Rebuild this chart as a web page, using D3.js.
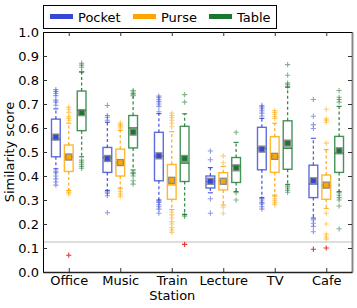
<!DOCTYPE html>
<html>
<head>
<meta charset="utf-8">
<script src="https://cdnjs.cloudflare.com/ajax/libs/d3/7.8.5/d3.min.js"></script>
<style>
  html, body { margin: 0; padding: 0; background: #fff; }
  svg { display: block; font-family: 'DejaVu Sans', sans-serif; }
</style>
</head>
<body>
<svg id="chart" width="357" height="308"></svg>
<script>
// ── data (rows: Pocket, Purse, Table; columns follow categories) ──
const categories = ['Office', 'Music', 'Train\nStation', 'Lecture', 'TV', 'Cafe'];
const series = ['Pocket', 'Purse', 'Table'];
const colors = ['#3447d6', '#ffa500', '#18782e'];
const yTicks = [0, 0.1, 0.2, 0.3, 0.4, 0.5, 0.6, 0.7, 0.8, 0.9, 1.0];
const threshold = 0.125;

const q1 = [
  [0.480, 0.415, 0.380, 0.350, 0.426, 0.310],
  [0.419, 0.400, 0.303, 0.342, 0.415, 0.303],
  [0.589, 0.517, 0.377, 0.373, 0.428, 0.415],
];
const median = [
  [0.554, 0.477, 0.482, 0.377, 0.515, 0.367],
  [0.480, 0.455, 0.363, 0.380, 0.480, 0.360],
  [0.673, 0.600, 0.454, 0.442, 0.516, 0.495],
];
const q3 = [
  [0.637, 0.519, 0.582, 0.400, 0.603, 0.445],
  [0.529, 0.512, 0.448, 0.414, 0.564, 0.404],
  [0.754, 0.652, 0.607, 0.477, 0.630, 0.565],
];
const means = [
  [0.562, 0.473, 0.484, 0.378, 0.512, 0.380],
  [0.479, 0.456, 0.382, 0.378, 0.482, 0.362],
  [0.664, 0.583, 0.473, 0.434, 0.537, 0.505],
];
const whiskerLow = [
  [0.430, 0.340, 0.300, 0.330, 0.310, 0.225],
  [0.340, 0.350, 0.260, 0.279, 0.320, 0.265],
  [0.480, 0.425, 0.240, 0.335, 0.365, 0.335],
];
const whiskerHigh = [
  [0.680, 0.624, 0.660, 0.435, 0.640, 0.557],
  [0.620, 0.590, 0.585, 0.440, 0.620, 0.510],
  [0.833, 0.742, 0.659, 0.540, 0.770, 0.690],
];
const outliers = [
  [
    [0.760, 0.752, 0.745, 0.735, 0.716, 0.708, 0.695, 0.420, 0.413, 0.400, 0.388, 0.375, 0.362],
    [0.694, 0.652, 0.645, 0.632, 0.334, 0.328, 0.318, 0.247],
    [0.733, 0.726, 0.718, 0.710, 0.700, 0.690, 0.668, 0.295, 0.290, 0.280, 0.272, 0.262, 0.245],
    [0.504, 0.468, 0.305, 0.245],
    [0.694, 0.688, 0.680, 0.672, 0.662, 0.650, 0.306, 0.300, 0.290, 0.284, 0.272, 0.262],
    [0.719, 0.649, 0.614, 0.598, 0.217, 0.203, 0.190, 0.168],
  ],
  [
    [0.687, 0.678, 0.665, 0.648, 0.640, 0.632, 0.338, 0.331, 0.325],
    [0.621, 0.614, 0.607, 0.600, 0.345, 0.335, 0.325, 0.315],
    [0.662, 0.652, 0.643, 0.632, 0.620, 0.605, 0.250, 0.238, 0.225, 0.210, 0.200, 0.185, 0.175, 0.165],
    [0.484, 0.455, 0.270, 0.245],
    [0.673, 0.665, 0.657, 0.648, 0.640, 0.315, 0.305, 0.297, 0.288, 0.280],
    [0.678, 0.638, 0.632, 0.624, 0.537, 0.245, 0.200, 0.158, 0.146, 0.137],
  ],
  [
    [0.870, 0.862, 0.853, 0.835, 0.466, 0.458, 0.449, 0.440, 0.432],
    [0.756, 0.750, 0.735, 0.415, 0.410, 0.400, 0.380, 0.366],
    [0.739, 0.708, 0.238, 0.232],
    [0.582, 0.330, 0.300],
    [0.864, 0.820, 0.787, 0.780, 0.772, 0.358, 0.350, 0.341, 0.332],
    [0.756, 0.728, 0.719, 0.708, 0.330, 0.320, 0.310, 0.300, 0.275, 0.180],
  ],
];
// points below the threshold, drawn in red: [series, category, value]
const lowPoints = [[1, 0, 0.070], [2, 2, 0.115], [0, 5, 0.095], [1, 5, 0.100]];

// ── layout ──
const margin = { top: 32, right: 5, bottom: 36, left: 43 };
const W = 357, H = 308;
const w = W - margin.left - margin.right;
const h = H - margin.top - margin.bottom;
const offsets = [-0.25, 0, 0.25];
const boxW = 0.17;

const svg = d3.select('#chart');
const g = svg.append('g').attr('transform', `translate(${margin.left},${margin.top})`);

const x = d3.scaleLinear().domain([0.5, categories.length + 0.5]).range([0, w]);
const y = d3.scaleLinear().domain([0, 1]).range([h, 0]);
const bw = x(boxW) - x(0);
const plus = 'M-2.6,0H2.6M0,-2.6V2.6';

// threshold line
g.append('line').attr('x1', 0).attr('x2', w).attr('y1', y(threshold)).attr('y2', y(threshold))
  .attr('stroke', '#bdbdbd').attr('stroke-width', 1);

// boxes
series.forEach((s, si) => {
  const col = colors[si];
  const sg = g.append('g').attr('class', `series-${s}`);
  categories.forEach((c, ci) => {
    const cx = x(ci + 1 + offsets[si]);
    // whiskers
    [[q1[si][ci], whiskerLow[si][ci]], [q3[si][ci], whiskerHigh[si][ci]]].forEach(([a, b]) => {
      sg.append('line').attr('x1', cx).attr('x2', cx).attr('y1', y(a)).attr('y2', y(b))
        .attr('stroke', col).attr('stroke-width', 1.3).attr('stroke-dasharray', '3,2.5')
        .attr('opacity', 0.85);
      sg.append('line').attr('x1', cx - 2.5).attr('x2', cx + 2.5).attr('y1', y(b)).attr('y2', y(b))
        .attr('stroke', col).attr('stroke-width', 1.2).attr('opacity', 0.85);
    });
    // outliers
    sg.selectAll(null).data(outliers[si][ci]).enter().append('path')
      .attr('d', plus).attr('transform', d => `translate(${cx},${y(d)})`)
      .attr('fill', 'none').attr('stroke', col).attr('stroke-width', 1.1).attr('opacity', 0.55);
    // box
    sg.append('rect').attr('x', cx - bw / 2).attr('y', y(q3[si][ci]))
      .attr('width', bw).attr('height', y(q1[si][ci]) - y(q3[si][ci]))
      .attr('fill', 'none').attr('stroke', col).attr('stroke-width', 1.4).attr('opacity', 0.8);
    sg.append('line').attr('x1', cx - bw / 2).attr('x2', cx + bw / 2)
      .attr('y1', y(median[si][ci])).attr('y2', y(median[si][ci]))
      .attr('stroke', col).attr('stroke-width', 1.4);
    // mean
    sg.append('rect').attr('x', cx - 3).attr('y', y(means[si][ci]) - 3)
      .attr('width', 6).attr('height', 6)
      .attr('fill', col).attr('stroke', '#8a8a8a').attr('stroke-width', 1.3);
  });
});

// red points below threshold
g.selectAll('.low').data(lowPoints).enter().append('path')
  .attr('class', 'low').attr('d', plus)
  .attr('transform', d => `translate(${x(d[1] + 1 + offsets[d[0]])},${y(d[2])})`)
  .attr('fill', 'none').attr('stroke', '#e8352e').attr('stroke-width', 1.1);

// axes
const catTicks = categories.map((c, i) => i + 1);
const yAxis = g.append('g')
  .call(d3.axisLeft(y).tickValues(yTicks).tickSizeInner(-4).tickSizeOuter(0).tickPadding(4)
    .tickFormat(d3.format('.1f')));
const yRight = g.append('g').attr('transform', `translate(${w},0)`)
  .call(d3.axisRight(y).tickValues(yTicks).tickSizeInner(-4).tickSizeOuter(0).tickFormat(''));
const xTop = g.append('g')
  .call(d3.axisTop(x).tickValues(catTicks).tickSizeInner(-4).tickSizeOuter(0).tickFormat(''));
const xAxis = g.append('g').attr('transform', `translate(0,${h})`)
  .call(d3.axisBottom(x).tickValues(catTicks).tickSizeInner(-4).tickSizeOuter(0).tickPadding(5)
    .tickFormat(''));

xAxis.selectAll('.tick').each(function (d) {
  const lines = categories[d - 1].split('\n');
  const t = d3.select(this).append('text').attr('fill', '#000').attr('text-anchor', 'middle')
    .style('font-size', '13px');
  lines.forEach((l, i) => t.append('tspan').attr('x', 0).attr('y', 13 + i * 15).text(l));
});

[yAxis, yRight, xTop, xAxis].forEach(a => {
  a.selectAll('.tick line').attr('stroke', '#333');
  a.selectAll('text').style('font-size', '13px').style('font-family', "'DejaVu Sans', sans-serif");
});
yAxis.selectAll('.domain').attr('stroke', '#000');
xTop.selectAll('.domain').attr('stroke', '#000');
xAxis.selectAll('.domain').attr('stroke', '#222').attr('stroke-width', 1.5);
yRight.selectAll('.domain').attr('stroke', '#888').attr('stroke-width', 2);

// y label
svg.append('text').attr('transform', `translate(14,${margin.top + h / 2}) rotate(-90)`)
  .attr('text-anchor', 'middle').style('font-size', '13px').text('Similarity score');

// legend
const lg = svg.append('g');
lg.append('rect').attr('x', 43.5).attr('y', 5.5).attr('width', 233).attr('height', 23)
  .attr('fill', '#fff').attr('stroke', '#000').attr('stroke-width', 1);
const legendX = [50, 133, 209];
series.forEach((s, i) => {
  lg.append('line').attr('x1', legendX[i]).attr('x2', legendX[i] + 23).attr('y1', 16.5).attr('y2', 16.5)
    .attr('stroke', colors[i]).attr('stroke-width', 5);
  lg.append('text').attr('x', legendX[i] + 28).attr('y', 21.5).style('font-size', '13px').text(s);
});
</script>
</body>
</html>
